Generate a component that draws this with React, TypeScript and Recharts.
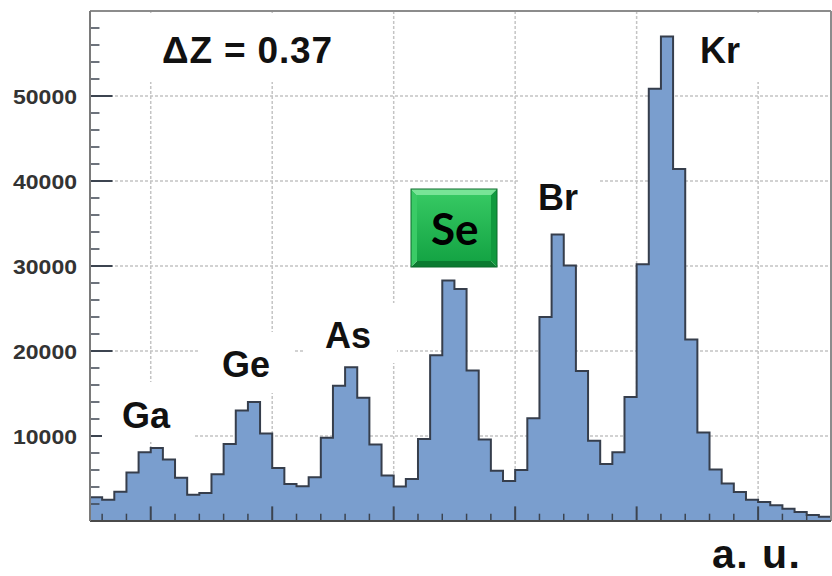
import { AreaChart, Area, XAxis, YAxis, CartesianGrid, ReferenceLine } from "recharts";

// counts per bin (61 equal-width bins, arbitrary units on x)
const binCounts = [
  2800, 2500, 3450, 5700, 8100, 8600, 7250, 5100, 3100, 3300,
  5500, 9050, 13000, 14000, 10300, 6250, 4350, 4100, 5150, 9800,
  15900, 18100, 14500, 9000, 5350, 4050, 4950, 9650, 19500, 28300,
  27300, 17700, 9600, 5900, 4700, 6000, 12100, 24000, 33700, 30050,
  17650, 9450, 6700, 8100, 14600, 30200, 50850, 57000, 41400, 21350,
  10400, 6050, 4400, 3400, 2500, 2250, 1850, 1450, 1050, 700,
  500,
];

const yTicks = [10000, 20000, 30000, 40000, 50000];
const yMinorTicks = [2000, 4000, 6000, 8000, 12000, 14000, 16000, 18000, 22000, 24000, 26000, 28000, 32000, 34000, 36000, 38000, 42000, 44000, 46000, 48000, 52000, 54000, 56000, 58000];
const xMajorTicks = [5, 15, 25, 35, 45, 55];
const xMinorTicks = [1, 3, 7, 9, 11, 13, 17, 19, 21, 23, 27, 29, 31, 33, 37, 39, 41, 43, 47, 49, 51, 53, 57, 59];

const deltaZ = "ΔZ = 0.37";
const xUnit = "a. u.";

// step area needs a closing point for the right edge of the last bin
const histData = [
  ...binCounts.map((count, bin) => ({ bin, count })),
  { bin: binCounts.length, count: binCounts[binCounts.length - 1] },
];

const W = 832;
const H = 576;
const tickColor = "#3c4450";
const labelFont = "'Liberation Sans', Arial, sans-serif";

function YTickLabel({ x, y, payload }: any) {
  return (
    <text
      x={x}
      y={y + 8}
      textAnchor="end"
      fontFamily={labelFont}
      fontWeight={700}
      fontSize={21}
      fill="#333"
      textLength={64}
      lengthAdjust="spacingAndGlyphs"
    >
      {payload.value}
    </text>
  );
}

function ElementLabel({ x, y, text, size = 36, len }: { x: number; y: number; text: string; size?: number; len?: number }) {
  return (
    <text
      x={x}
      y={y}
      fontFamily={labelFont}
      fontWeight={700}
      fontSize={size}
      fill="#111"
      textLength={len}
      lengthAdjust={len ? "spacing" : undefined}
    >
      {text}
    </text>
  );
}

function SeBadge() {
  const x0 = 411, y0 = 189, x1 = 497, y1 = 267, b = 6;
  return (
    <g>
      <defs>
        <linearGradient id="seFace" x1="0" y1="0" x2="0" y2="1">
          <stop offset="0" stopColor="#35c862" />
          <stop offset="1" stopColor="#14a444" />
        </linearGradient>
      </defs>
      <polygon points={`${x0},${y0} ${x1},${y0} ${x1 - b},${y0 + b} ${x0 + b},${y0 + b}`} fill="#78e497" />
      <polygon points={`${x0},${y1} ${x1},${y1} ${x1 - b},${y1 - b} ${x0 + b},${y1 - b}`} fill="#0b7b31" />
      <polygon points={`${x0},${y0} ${x0 + b},${y0 + b} ${x0 + b},${y1 - b} ${x0},${y1}`} fill="#3acb66" />
      <polygon points={`${x1},${y0} ${x1 - b},${y0 + b} ${x1 - b},${y1 - b} ${x1},${y1}`} fill="#109a3e" />
      <rect x={x0 + b} y={y0 + b} width={x1 - x0 - 2 * b} height={y1 - y0 - 2 * b} fill="url(#seFace)" />
      <rect x={x0} y={y0} width={x1 - x0} height={y1 - y0} fill="none" stroke="#0a6a2a" strokeWidth={1} />
      <text x={431} y={245} fontFamily="Lato, 'Noto Sans', sans-serif" fontWeight={700} fontSize={44} fill="#000">
        Se
      </text>
    </g>
  );
}

const EmptyTick = () => <g />;

export default function App() {
  return (
    <div style={{ position: "absolute", left: 0, top: 0, width: W, height: H, background: "#fff" }}>
      <AreaChart
        width={W}
        height={H}
        data={histData}
        margin={{ top: 11, right: 1, bottom: 54, left: 0 }}
      >
        <CartesianGrid stroke="#c4c4c4" strokeWidth={1.5} strokeDasharray="3 2" />
        <XAxis
          type="number"
          dataKey="bin"
          domain={[0, 61]}
          ticks={xMajorTicks}
          interval={0}
          tick={EmptyTick}
          tickLine={false}
          axisLine={{ stroke: "#4a4a4a", strokeWidth: 2 }}
          height={1}
        />
        <YAxis
          type="number"
          domain={[0, 60000]}
          ticks={yTicks}
          width={90}
          tickLine={false}
          tickSize={0}
          tickMargin={13}
          axisLine={{ stroke: "#7a7a7a", strokeWidth: 2 }}
          tick={<YTickLabel />}
        />
        <Area
          type="stepAfter"
          dataKey="count"
          stroke="#363e4c"
          strokeWidth={2}
          fill="#7a9ece"
          fillOpacity={1}
          dot={false}
          activeDot={false}
          isAnimationActive={false}
        />
        <ReferenceLine y={60000} stroke="#8c8c8c" strokeWidth={2} />
        <ReferenceLine x={61} stroke="#8c8c8c" strokeWidth={2} />
        {yTicks.map((v) => (
          <ReferenceLine key={`ym${v}`} segment={[{ x: 0, y: v }, { x: 1.85, y: v }]} stroke={tickColor} strokeWidth={2} />
        ))}
        {yMinorTicks.map((v) => (
          <ReferenceLine key={`yn${v}`} segment={[{ x: 0, y: v }, { x: 0.78, y: v }]} stroke={tickColor} strokeWidth={1.5} />
        ))}
        {xMajorTicks.map((b) => (
          <ReferenceLine key={`xm${b}`} segment={[{ x: b, y: 0 }, { x: b, y: 1720 }]} stroke={tickColor} strokeWidth={2} />
        ))}
        {xMinorTicks.map((b) => (
          <ReferenceLine key={`xn${b}`} segment={[{ x: b, y: 0 }, { x: b, y: 860 }]} stroke={tickColor} strokeWidth={1.5} />
        ))}
      </AreaChart>

      <svg
        width={W}
        height={H}
        style={{ position: "absolute", left: 0, top: 0, pointerEvents: "none" }}
      >
        {/* white label backgrounds hide the grid behind the annotations */}
        <rect x={140} y={13} width={210} height={69} fill="#fff" />
        <rect x={682} y={13} width={108} height={69} fill="#fff" />
        <rect x={519} y={160} width={81} height={65} fill="#fff" />
        <rect x={305} y={303} width={92} height={60} fill="#fff" />
        <rect x={200} y={332} width={93} height={61} fill="#fff" />
        <rect x={102} y={382} width={91} height={60} fill="#fff" />

        <ElementLabel x={162} y={63} text={deltaZ} size={37} len={170} />
        <ElementLabel x={122} y={428} text="Ga" />
        <ElementLabel x={222} y={377} text="Ge" />
        <ElementLabel x={325} y={348} text="As" />
        <ElementLabel x={538} y={210} text="Br" />
        <ElementLabel x={700} y={63} text="Kr" />
        <ElementLabel x={712} y={568} text={xUnit} size={41} len={88} />
        <SeBadge />
      </svg>
    </div>
  );
}
